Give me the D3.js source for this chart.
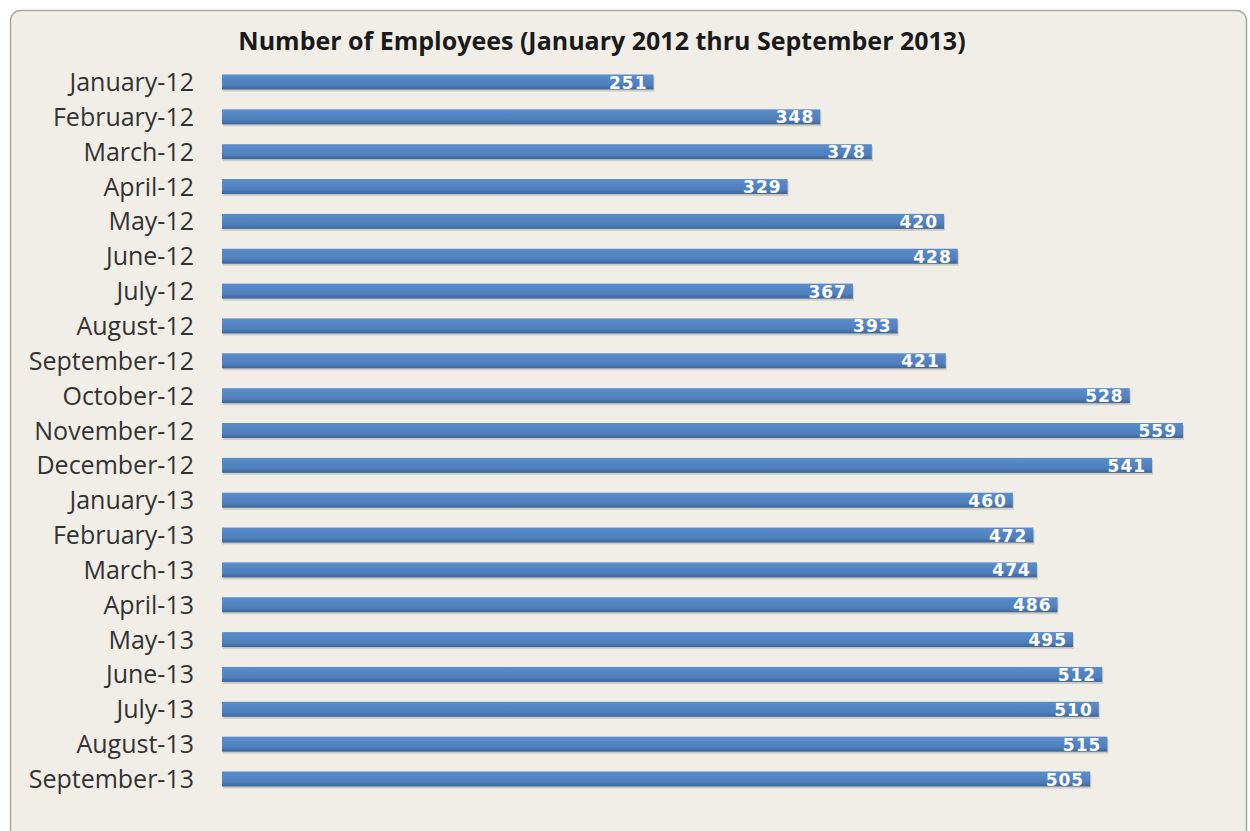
<!DOCTYPE html>
<html>
<head>
<meta charset="utf-8">
<script src="https://cdn.jsdelivr.net/npm/d3@7"></script>
<style>
  body { margin: 0; background: #ffffff; }
  svg { display: block; }
</style>
</head>
<body>
<div id="chart"></div>
<script>
// Data
const months = [
  "January-12", "February-12", "March-12", "April-12", "May-12", "June-12",
  "July-12", "August-12", "September-12", "October-12", "November-12", "December-12",
  "January-13", "February-13", "March-13", "April-13", "May-13", "June-13",
  "July-13", "August-13", "September-13"
];
const employees = [251, 348, 378, 329, 420, 428, 367, 393, 421, 528, 559, 541,
  460, 472, 474, 486, 495, 512, 510, 515, 505];
const title = "Number of Employees (January 2012 thru September 2013)";

const data = months.map((m, i) => ({ month: m, value: employees[i] }));

const width = 1250, height = 831;
const font = "'Open Sans', sans-serif";

const svg = d3.select("#chart").append("svg")
  .attr("width", width)
  .attr("height", height);

// gradient for the bars
const defs = svg.append("defs");
const grad = defs.append("linearGradient")
  .attr("id", "barGrad")
  .attr("x1", 0).attr("y1", 0).attr("x2", 0).attr("y2", 1);
grad.append("stop").attr("offset", "0%").attr("stop-color", "#5b8dcc");
grad.append("stop").attr("offset", "70%").attr("stop-color", "#4f7fbc");
grad.append("stop").attr("offset", "100%").attr("stop-color", "#3c6599");

// chart panel
svg.append("rect")
  .attr("x", 10.5).attr("y", 10.5)
  .attr("width", 1236).attr("height", 840)
  .attr("rx", 10)
  .attr("fill", "#f0eee7")
  .attr("stroke", "#a9a9a4")
  .attr("stroke-width", 1.5);

// scales
const x = d3.scaleLinear()
  .domain([0, 559])
  .range([222, 1183]);

const y = d3.scalePoint()
  .domain(months)
  .range([82, 779]);

const barH = 15;

// title
svg.append("text")
  .attr("x", 602)
  .attr("y", 50)
  .attr("text-anchor", "middle")
  .style("font-family", font)
  .style("font-size", "25px")
  .style("font-weight", "bold")
  .attr("fill", "#1a1a1a")
  .text(title);

// category axis
const yAxis = svg.append("g")
  .attr("transform", `translate(${x(0)},0)`)
  .call(d3.axisLeft(y).tickSize(0).tickPadding(28));
yAxis.select(".domain").remove();
yAxis.selectAll("text")
  .attr("dy", "0.34em")
  .style("font-family", font)
  .style("font-size", "25px")
  .attr("fill", "#333");

// bar shadow
svg.selectAll(".shadow")
  .data(data)
  .enter()
  .append("rect")
  .attr("class", "shadow")
  .attr("x", x(0) + 1)
  .attr("y", d => y(d.month) - barH / 2 + 2)
  .attr("width", d => x(d.value) - x(0))
  .attr("height", barH)
  .attr("fill", "#b9b6ae")
  .attr("opacity", 0.6);

// bars
svg.selectAll(".bar")
  .data(data)
  .enter()
  .append("rect")
  .attr("class", "bar")
  .attr("x", x(0))
  .attr("y", d => y(d.month) - barH / 2)
  .attr("width", d => x(d.value) - x(0))
  .attr("height", barH)
  .attr("fill", "url(#barGrad)");

// value labels
svg.selectAll(".val")
  .data(data)
  .enter()
  .append("text")
  .attr("class", "val")
  .attr("x", d => x(d.value) - 6)
  .attr("y", d => y(d.month) + 6.5)
  .attr("text-anchor", "end")
  .style("font-family", "'DejaVu Sans', sans-serif")
  .style("font-size", "17px")
  .style("font-weight", "bold")
  .style("letter-spacing", "1px")
  .attr("fill", "#ffffff")
  .text(d => d.value);
</script>
</body>
</html>
